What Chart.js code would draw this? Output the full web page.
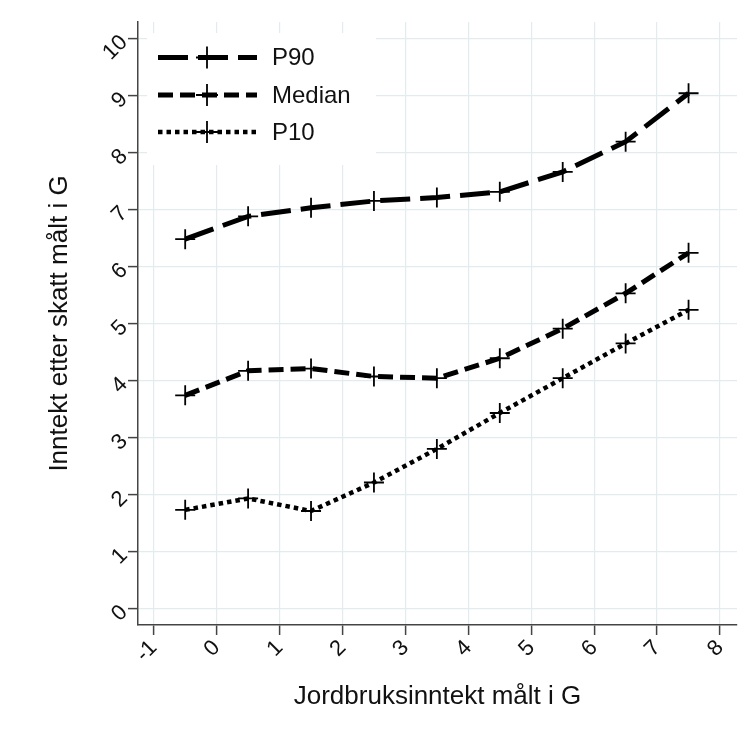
<!DOCTYPE html>
<html>
<head>
<meta charset="utf-8">
<script src="https://cdn.jsdelivr.net/npm/chart.js@4/dist/chart.umd.min.js"></script>
<style>
  html, body { margin: 0; padding: 0; background: #fff; }
  #wrap { width: 750px; height: 745px; }
</style>
</head>
<body>
<div id="wrap"><canvas id="c" width="750" height="745"></canvas></div>
<script>
// ---- data ----
const xValues = [-0.5, 0.5, 1.5, 2.5, 3.5, 4.5, 5.5, 6.5, 7.5];
const p90 = [6.49, 6.89, 7.04, 7.16, 7.22, 7.32, 7.67, 8.20, 9.05];
const median = [3.75, 4.18, 4.22, 4.08, 4.05, 4.40, 4.92, 5.54, 6.25];
const p10 = [1.74, 1.94, 1.72, 2.22, 2.81, 3.44, 4.05, 4.66, 5.25];
const seriesNames = ['P90', 'Median', 'P10'];
const xTicks = [-1, 0, 1, 2, 3, 4, 5, 6, 7, 8];
const yTicks = [0, 1, 2, 3, 4, 5, 6, 7, 8, 9, 10];
const xTitle = 'Jordbruksinntekt målt i G';
const yTitle = 'Inntekt etter skatt målt i G';

const FONT = '"Liberation Sans", Arial, Helvetica, sans-serif';
const GRID = 'rgb(226,236,238)';
const AXIS = '#444';

function pts(vals) { return xValues.map((x, i) => ({ x: x, y: vals[i] })); }

const styles = [
  { dash: [30, 10], width: 5 },
  { dash: [15, 7], width: 5 },
  { dash: [4.5, 4], width: 4.5 }
];

const seriesData = [p90, median, p10];
const datasets = seriesData.map((vals, i) => ({
  label: seriesNames[i],
  data: pts(vals),
  borderColor: '#000',
  backgroundColor: '#000',
  borderWidth: styles[i].width,
  borderDash: styles[i].dash,
  borderCapStyle: 'butt',
  pointStyle: 'cross',
  pointRadius: 10,
  pointBorderWidth: 1.8,
  pointBorderColor: '#000',
  tension: 0,
  fill: false
}));

const legendPlugin = {
  id: 'insideLegend',
  beforeDatasetsDraw(chart) {
    const ctx = chart.ctx;
    ctx.save();
    ctx.fillStyle = '#fff';
    ctx.fillRect(147, 33, 229, 132);
    const rows = [57.5, 95, 132];
    chart.data.datasets.forEach((ds, i) => {
      const y = rows[i];
      ctx.save();
      ctx.strokeStyle = '#000';
      ctx.lineWidth = ds.borderWidth;
      ctx.lineCap = 'butt';
      ctx.setLineDash(ds.borderDash);
      ctx.beginPath();
      ctx.moveTo(158, y);
      ctx.lineTo(257, y);
      ctx.stroke();
      ctx.setLineDash([]);
      ctx.lineWidth = 1.8;
      const cx = 207, r = 11;
      ctx.beginPath();
      ctx.moveTo(cx - r, y); ctx.lineTo(cx + r, y);
      ctx.moveTo(cx, y - r); ctx.lineTo(cx, y + r);
      ctx.stroke();
      ctx.restore();
      ctx.fillStyle = '#111';
      ctx.font = '24px ' + FONT;
      ctx.textBaseline = 'middle';
      ctx.textAlign = 'left';
      ctx.fillText(ds.label, 272, y + 1);
    });
    ctx.restore();
  }
};

new Chart(document.getElementById('c'), {
  type: 'line',
  data: { datasets: datasets },
  options: {
    responsive: false,
    animation: false,
    layout: { padding: { top: 22, right: 13, left: 0, bottom: 0 } },
    plugins: { legend: { display: false }, tooltip: { enabled: false } },
    scales: {
      x: {
        type: 'linear',
        min: -1.25,
        max: 8.27,
        afterBuildTicks(s) { s.ticks = xTicks.map(v => ({ value: v })); },
        afterFit(s) { s.height = 120; },
        grid: { color: GRID, lineWidth: 1.2, tickColor: AXIS, tickLength: 10, tickWidth: 1.5 },
        border: { color: AXIS, width: 1.5 },
        ticks: { color: '#111', font: { family: FONT, size: 22 }, minRotation: 45, maxRotation: 45, padding: 0 },
        title: { display: true, text: xTitle, color: '#111', font: { family: FONT, size: 26 }, padding: { top: 0, bottom: 33 } }
      },
      y: {
        type: 'linear',
        min: -0.28,
        max: 10.3,
        afterBuildTicks(s) { s.ticks = yTicks.map(v => ({ value: v })); },
        afterFit(s) { s.width = 138; },
        grid: { color: GRID, lineWidth: 1.2, tickColor: AXIS, tickLength: 10, tickWidth: 1.5 },
        border: { color: AXIS, width: 1.5 },
        ticks: { color: '#111', font: { family: FONT, size: 22 }, minRotation: 45, maxRotation: 45, padding: 4 },
        title: { display: true, text: yTitle, color: '#111', font: { family: FONT, size: 26 }, padding: { top: 44, bottom: 0 } }
      }
    }
  },
  plugins: [legendPlugin]
});
</script>
</body>
</html>
